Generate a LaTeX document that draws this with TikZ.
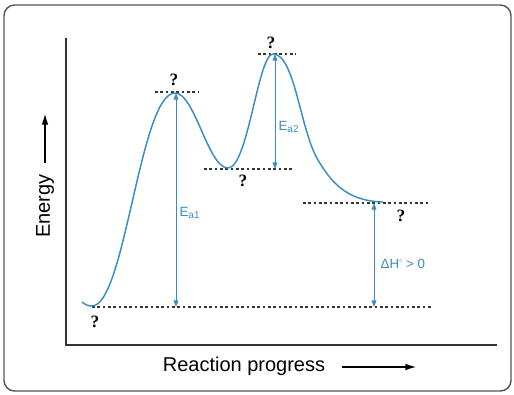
\documentclass[tikz,border=0pt]{standalone}
\usepackage{fontspec}
\setmainfont{Liberation Sans}
\newfontfamily\marcaPregunta{Liberation Serif}
\usetikzlibrary{arrows.meta, positioning, calc}
\definecolor{colorCurva}{HTML}{3A8CC1}
\definecolor{grisMarco}{HTML}{555555}
\definecolor{grisEje}{HTML}{333333}

\begin{document}
\begin{tikzpicture}[x=0.75pt, y=-0.75pt,
        marco/.style={draw=grisMarco, line width=1.1pt, rounded corners=8pt},
        eje/.style={draw=grisEje, line width=1.1pt},
        curva/.style={draw=colorCurva, line width=1.1pt},
        nivel/.style={draw=black!80, line width=0.8pt, dash pattern=on 2pt off 2pt},
        flecha/.style={{Triangle[length=5pt,width=3.6pt]}-{Triangle[length=5pt,width=3.6pt]},
            draw=colorCurva, line width=0.7pt},
        etq/.style={text=colorCurva, font=\fontsize{10}{12}\selectfont, inner sep=1pt},
        ask/.style={font=\fontsize{13}{15}\selectfont\marcaPregunta\bfseries, inner sep=0pt},
        tit/.style={font=\fontsize{15}{18}\selectfont, inner sep=0pt},
        guia/.style={-{Latex[length=8pt,width=5pt]}, line width=0.8pt}
    ]
        \useasboundingbox (0,0) rectangle (514,394);
        \draw[marco] (4,5) rectangle (511,391);

        % axes
        \coordinate (origen) at (66,345);
        \coordinate (ytop) at (66,38);
        \coordinate (xfin) at (497,345);
        \draw[eje] (ytop) -- (origen) -- (xfin);

        % axis titles
        \node[tit, rotate=90] (energia) at (45,206) {Energy};
        \coordinate (eA) at (45,163);
        \coordinate (eB) at (45,114);
        \draw[guia] (eA) -- (eB);
        \node[tit] (progreso) at (244,366) {Reaction progress};
        \coordinate (pA) at (342,367);
        \coordinate (pB) at (416,367);
        \draw[guia] (pA) -- (pB);

        % key points of the profile
        \coordinate (inicio) at (82,302);
        \coordinate (reac) at (92,306);
        \coordinate (ts1) at (175,93);
        \coordinate (inter) at (228,168);
        \coordinate (ts2) at (273,54);
        \coordinate (cola) at (318,160);
        \coordinate (prod) at (383,202);

        % levels
        \coordinate (n1a) at (155,92);  \coordinate (n1b) at (198,92);
        \coordinate (n2a) at (258,54);  \coordinate (n2b) at (296,54);
        \coordinate (n3a) at (204,169); \coordinate (n3b) at (292,169);
        \coordinate (n4a) at (303,203); \coordinate (n4b) at (431,203);
        \coordinate (n5a) at (92,307);  \coordinate (n5b) at (431,307);
        \draw[nivel] (n1a) -- (n1b);
        \draw[nivel] (n2a) -- (n2b);
        \draw[nivel] (n3a) -- (n3b);
        \draw[nivel] (n4a) -- (n4b);
        \draw[nivel] (n5a) -- (n5b);

        \draw[curva] (inicio) .. controls (86,305) and (88,306) .. (reac)
            .. controls (125,306) and (140,93) .. (ts1)
            .. controls (195,93) and (208,168) .. (inter)
            .. controls (248,168) and (258,54) .. (ts2)
            .. controls (295,54) and (300,130) .. (cola)
            .. controls (330,180) and (345,201) .. (prod);

        % energy arrows
        \coordinate (a1a) at (176,307); \coordinate (a1b) at (176,93);
        \coordinate (a2a) at (275,54);  \coordinate (a2b) at (275,169);
        \coordinate (dha) at (374,203); \coordinate (dhb) at (374,307);
        \draw[flecha] (a1a) -- (a1b);
        \draw[flecha] (a2a) -- (a2b);
        \draw[flecha] (dha) -- (dhb);

        \node[etq, anchor=west] (ea1) at (178,213) {E\raisebox{-0.35ex}{\fontsize{7.5}{9}\selectfont a1}};
        \node[etq, anchor=west] (ea2) at (277,127) {E\raisebox{-0.35ex}{\fontsize{7.5}{9}\selectfont a2}};
        \node[etq, anchor=west] (dh) at (379,264) {ΔH\raisebox{0.5ex}{\fontsize{6}{7}\selectfont °} > 0};

        % unknown species
        \node[ask] (q1) at (174,80) {?};
        \node[ask] (q2) at (271,43) {?};
        \node[ask] (q3) at (243,181) {?};
        \node[ask] (q4) at (401,216) {?};
        \node[ask] (q5) at (95,322) {?};
    \end{tikzpicture}
\end{document}
